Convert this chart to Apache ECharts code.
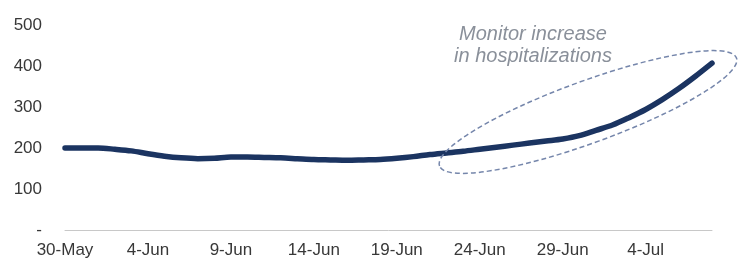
<!DOCTYPE html>
<html>
<head>
<meta charset="utf-8">
<script src="https://cdn.jsdelivr.net/npm/echarts@6/dist/echarts.min.js"></script>
<style>
  html, body { margin: 0; padding: 0; background: #fff; }
  #chart { width: 740px; height: 260px; }
</style>
</head>
<body>
<div id="chart"></div>
<script>
// daily dates, 30-May .. 8-Jul
const dates = [
  '30-May', '31-May', '1-Jun', '2-Jun', '3-Jun', '4-Jun', '5-Jun', '6-Jun', '7-Jun', '8-Jun',
  '9-Jun', '10-Jun', '11-Jun', '12-Jun', '13-Jun', '14-Jun', '15-Jun', '16-Jun', '17-Jun', '18-Jun',
  '19-Jun', '20-Jun', '21-Jun', '22-Jun', '23-Jun', '24-Jun', '25-Jun', '26-Jun', '27-Jun', '28-Jun',
  '29-Jun', '30-Jun', '1-Jul', '2-Jul', '3-Jul', '4-Jul', '5-Jul', '6-Jul', '7-Jul', '8-Jul'
];

// hospitalizations
const hospitalizations = [
  200, 200, 200, 197, 193, 186, 180, 176, 174, 175,
  178, 178, 177, 176, 174, 172, 171, 170, 171, 172,
  175, 179, 184, 188, 192, 197, 202, 207, 212, 217,
  222, 230, 243, 256, 274, 294, 318, 345, 375, 407
];

const annotationText = 'Monitor increase\nin hospitalizations';

const chart = echarts.init(document.getElementById('chart'));

chart.setOption({
  animation: false,
  grid: { left: 65, right: 28, top: 25, bottom: 30 },
  xAxis: {
    type: 'category',
    data: dates,
    boundaryGap: false,
    axisLine: { lineStyle: { color: '#c8c8c8', width: 1 } },
    axisTick: { show: false },
    axisLabel: {
      interval: 4,
      margin: 12,
      color: '#383838',
      fontSize: 17,
      fontFamily: 'Liberation Sans, Arial, sans-serif'
    },
    splitLine: { show: false }
  },
  yAxis: {
    type: 'value',
    min: 0,
    max: 500,
    interval: 100,
    axisLine: { show: false },
    axisTick: { show: false },
    splitLine: { show: false },
    axisLabel: {
      margin: 23,
      color: '#383838',
      fontSize: 17,
      fontFamily: 'Liberation Sans, Arial, sans-serif',
      formatter: (v) => (v === 0 ? '-' : v)
    }
  },
  series: [{
    type: 'line',
    data: hospitalizations,
    smooth: 0.3,
    symbol: 'none',
    lineStyle: { color: '#1b3461', width: 5.5, cap: 'round' }
  }],
  graphic: [
    {
      type: 'ellipse',
      x: 588,
      y: 112,
      rotation: 20 * Math.PI / 180,
      shape: { cx: 0, cy: 0, rx: 158, ry: 31 },
      style: {
        fill: 'none',
        stroke: '#7586ab',
        lineWidth: 1.5,
        lineDash: [5, 3]
      },
      z: 10
    },
    {
      type: 'text',
      x: 533,
      y: 45,
      style: {
        text: annotationText,
        align: 'center',
        verticalAlign: 'middle',
        fill: '#8a909a',
        font: 'italic 20px "Liberation Sans", Arial, sans-serif',
        lineHeight: 22
      },
      z: 10
    }
  ]
});
</script>
</body>
</html>
